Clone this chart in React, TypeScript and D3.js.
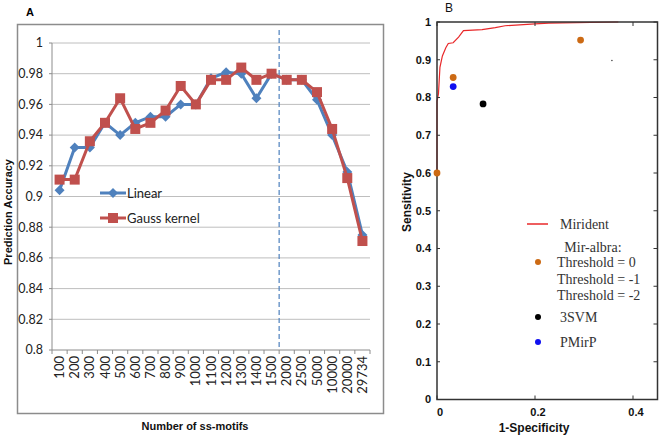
import React from "react";
import * as d3 from "d3";

const motifCats = ["100","200","300","400","500","600","700","800","900","1000","1100","1200","1300","1400","1500","2000","2500","5000","10000","20000","29734"];
const linearAcc = [0.904,0.932,0.932,0.948,0.940,0.948,0.952,0.952,0.960,0.960,0.977,0.981,0.980,0.964,0.980,0.976,0.976,0.963,0.940,0.916,0.875];
const gaussAcc = [0.911,0.911,0.936,0.948,0.964,0.944,0.948,0.956,0.972,0.960,0.976,0.976,0.984,0.976,0.980,0.976,0.976,0.968,0.944,0.912,0.871];
const accTicks = [0.8,0.82,0.84,0.86,0.88,0.9,0.92,0.94,0.96,0.98,1];
const accTickLabels = ["0.8","0.82","0.84","0.86","0.88","0.9","0.92","0.94","0.96","0.98","1"];

const rocFpr = [0, 0.0, 0.003, 0.006, 0.011, 0.018, 0.023, 0.033, 0.044, 0.054, 0.092, 0.119, 0.139, 0.2, 0.228, 0.37];
const rocTpr = [0.6, 0.79, 0.81, 0.88, 0.91, 0.932, 0.943, 0.945, 0.96, 0.977, 0.98, 0.985, 0.99, 0.995, 0.997, 1.0];
const albraFpr = [0.0, 0.033, 0.293];
const albraTpr = [0.6, 0.853, 0.952];
const svmPt = [0.094, 0.783];
const pmirpPt = [0.033, 0.829];
const strayPt = [0.357, 0.898];
const sensTicks = [0,0.1,0.2,0.3,0.4,0.5,0.6,0.7,0.8,0.9,1];
const sensTickLabels = ["0","0.1","0.2","0.3","0.4","0.5","0.6","0.7","0.8","0.9","1"];
const specTicks = [0,0.2,0.4];
const specTickLabels = ["0","0.2","0.4"];

const BLUE = "#4F81BD";
const RED = "#C0504D";
const ORANGE = "#CC6A14";
const fA = "Lato, 'Open Sans', sans-serif";
const fBold = "'Liberation Sans', Arial, sans-serif";
const fNarrow = "'Liberation Sans Narrow', 'Liberation Sans', Arial, sans-serif";
const fSerif = "'Liberation Serif', 'Times New Roman', serif";

function Diamond({ x, y, s = 5 }: { x: number; y: number; s?: number }) {
  return <path d={`M${x},${y - s}L${x + s},${y}L${x},${y + s}L${x - s},${y}Z`} fill={BLUE} />;
}
function Square({ x, y, s = 5 }: { x: number; y: number; s?: number }) {
  return <rect x={x - s} y={y - s} width={2 * s} height={2 * s} fill={RED} />;
}

function PanelA() {
  const x = d3.scaleBand<string>().domain(motifCats).range([52, 370]);
  const y = d3.scaleLinear().domain([0.8, 1]).range([350, 43]);
  const cx = (c: string) => (x(c) as number) + x.bandwidth() / 2;
  const line = d3.line<number>().x((_, i) => cx(motifCats[i])).y((d) => y(d));
  const dashX = x("2000") as number;
  return (
    <g>
      <rect x={17.5} y={24.5} width={366} height={389} fill="#fff" stroke="#8C8C8C" strokeWidth={1.5} />
      <text x={26} y={16} fontFamily={fBold} fontWeight="bold" fontSize={11}>A</text>
      {accTicks.map((t, i) => (
        <g key={i}>
          {i > 0 && <line x1={52} x2={370} y1={y(t)} y2={y(t)} stroke="#BEBEBE" strokeWidth={1} />}
          <line x1={49} x2={52} y1={y(t)} y2={y(t)} stroke="#8C8C8C" />
          <text x={43} y={y(t)} dy="0.35em" textAnchor="end" fontFamily={fA} fontSize={12.5} fill="#222">{accTickLabels[i]}</text>
        </g>
      ))}
      <line x1={52} x2={52} y1={43} y2={350} stroke="#8C8C8C" />
      <line x1={52} x2={370} y1={350} y2={350} stroke="#8C8C8C" />
      {motifCats.map((c, i) => (
        <g key={c}>
          <line x1={x(c) as number} x2={x(c) as number} y1={350} y2={354} stroke="#8C8C8C" />
          {i === motifCats.length - 1 && <line x1={370} x2={370} y1={350} y2={354} stroke="#8C8C8C" />}
          <text transform={`translate(${cx(c)},356) rotate(-90)`} dy="0.35em" textAnchor="end" fontFamily={fA} fontSize={13} fill="#222">{c}</text>
        </g>
      ))}
      <line x1={dashX} x2={dashX} y1={30} y2={350} stroke={BLUE} strokeWidth={1.2} strokeDasharray="5,3" />
      <path d={line(linearAcc) || ""} fill="none" stroke={BLUE} strokeWidth={3} />
      {linearAcc.map((v, i) => <Diamond key={i} x={cx(motifCats[i])} y={y(v)} />)}
      <path d={line(gaussAcc) || ""} fill="none" stroke={RED} strokeWidth={3} />
      {gaussAcc.map((v, i) => <Square key={i} x={cx(motifCats[i])} y={y(v)} />)}
      <line x1={100} x2={126} y1={193} y2={193} stroke={BLUE} strokeWidth={3} />
      <Diamond x={113} y={193} />
      <text x={127} y={193} dy="0.35em" fontFamily={fA} fontSize={13} fill="#222">Linear</text>
      <line x1={100} x2={126} y1={218} y2={218} stroke={RED} strokeWidth={3} />
      <Square x={113} y={218} />
      <text x={127} y={218} dy="0.35em" fontFamily={fA} fontSize={13} fill="#222">Gauss kernel</text>
      <text transform="translate(12,212) rotate(-90)" textAnchor="middle" fontFamily={fBold} fontWeight="bold" fontSize={11} fill="#111">Prediction Accuracy</text>
      <text x={195} y={430} textAnchor="middle" fontFamily={fBold} fontWeight="bold" fontSize={11} fill="#111">Number of ss-motifs</text>
    </g>
  );
}

function PanelB() {
  const x = d3.scaleLinear().domain([0, 0.45]).range([437, 657.5]);
  const y = d3.scaleLinear().domain([0, 1]).range([399.5, 22]);
  const roc = d3.line<number>().x((d) => x(d)).y((_, i) => y(rocTpr[i]));
  return (
    <g>
      <text x={445} y={12} fontFamily={fBold} fontSize={12} fill="#111">B</text>
      <path d={roc(rocFpr) || ""} fill="none" stroke="#E8282A" strokeWidth={1.2} />
      <rect x={x(0)} y={y(1)} width={x(0.45) - x(0)} height={y(0) - y(1)} fill="none" stroke="#333" strokeWidth={1.5} />
      {sensTicks.map((t, i) => (
        <g key={i}>
          <line x1={x(0)} x2={x(0) + 3} y1={y(t)} y2={y(t)} stroke="#333" />
          <line x1={x(0.45)} x2={x(0.45) - 4} y1={y(t)} y2={y(t)} stroke="#333" />
          <text x={431} y={y(t)} dy="0.35em" textAnchor="end" fontFamily={fNarrow} fontWeight="bold" fontSize={11} fill="#111">{sensTickLabels[i]}</text>
        </g>
      ))}
      {specTicks.map((t, i) => (
        <g key={i}>
          <line x1={x(t)} x2={x(t)} y1={y(0)} y2={y(0) - 4} stroke="#333" />
          <line x1={x(t)} x2={x(t)} y1={y(1)} y2={y(1) + 4} stroke="#333" />
          <text x={x(t) + 3} y={412} dy="0.35em" textAnchor="middle" fontFamily={fNarrow} fontWeight="bold" fontSize={11} fill="#111">{specTickLabels[i]}</text>
        </g>
      ))}
      {albraFpr.map((f, i) => <circle key={i} cx={x(f)} cy={y(albraTpr[i])} r={3.4} fill={ORANGE} />)}
      <circle cx={x(svmPt[0])} cy={y(svmPt[1])} r={3.4} fill="#000" />
      <circle cx={x(pmirpPt[0])} cy={y(pmirpPt[1])} r={3.4} fill="#1010F0" />
      <circle cx={x(strayPt[0])} cy={y(strayPt[1])} r={0.8} fill="#444" />
      <line x1={527} x2={548} y1={224} y2={224} stroke="#E8282A" strokeWidth={1.5} />
      <text x={560} y={224} dy="0.35em" fontFamily={fSerif} fontSize={14} fill="#333">Mirident</text>
      <text x={593} y={247} dy="0.35em" textAnchor="middle" fontFamily={fSerif} fontSize={14} fill="#333">Mir-albra:</text>
      <circle cx={538} cy={262} r={3} fill={ORANGE} />
      <text x={557} y={262} dy="0.35em" fontFamily={fSerif} fontSize={14} fill="#333">Threshold = 0</text>
      <text x={557} y={279} dy="0.35em" fontFamily={fSerif} fontSize={14} fill="#333">Threshold = -1</text>
      <text x={557} y={295} dy="0.35em" fontFamily={fSerif} fontSize={14} fill="#333">Threshold = -2</text>
      <circle cx={538} cy={317} r={3} fill="#000" />
      <text x={560} y={317} dy="0.35em" fontFamily={fSerif} fontSize={14} fill="#333">3SVM</text>
      <circle cx={538} cy={342} r={3} fill="#1010F0" />
      <text x={560} y={342} dy="0.35em" fontFamily={fSerif} fontSize={14} fill="#333">PMirP</text>
      <text transform="translate(411,202) rotate(-90)" textAnchor="middle" fontFamily={fBold} fontWeight="bold" fontSize={12} fill="#111">Sensitivity</text>
      <text x={534} y={432} textAnchor="middle" fontFamily={fBold} fontWeight="bold" fontSize={12} fill="#111">1-Specificity</text>
    </g>
  );
}

export default function App() {
  return (
    <svg width={661} height={437} style={{ position: "absolute", left: 0, top: 0, background: "#fff" }}>
      <rect width={661} height={437} fill="#fff" />
      <PanelA />
      <PanelB />
    </svg>
  );
}
